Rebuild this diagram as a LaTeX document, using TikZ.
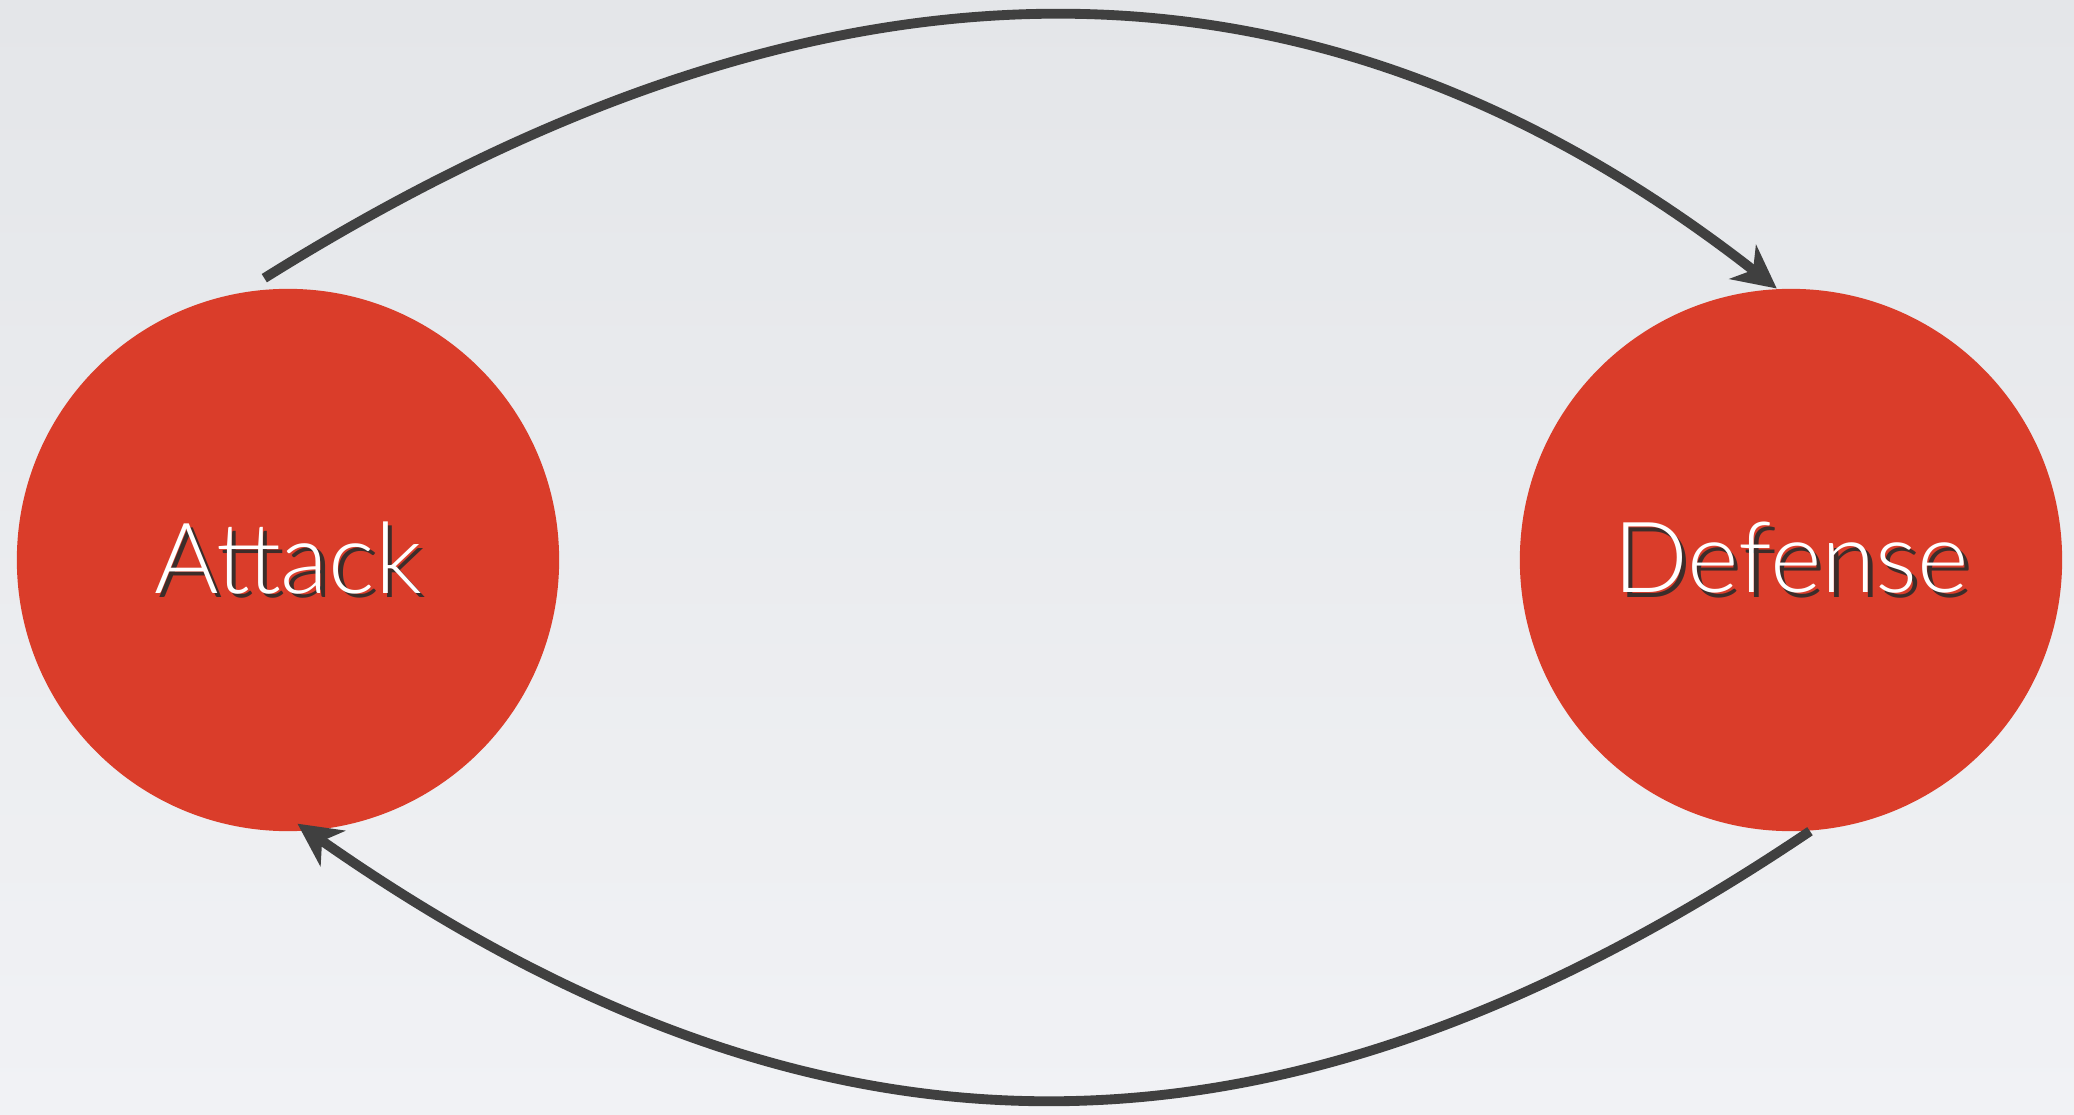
\documentclass[tikz,border=0pt]{standalone}
\usepackage{fontspec}
\usepackage{xcolor}
\usepackage{tikz}
\usetikzlibrary{arrows.meta}
\newfontfamily\labelfont{Lato}[UprightFont=* Light]
\definecolor{bgtop}{RGB}{228,230,233}
\definecolor{bgbottom}{RGB}{241,242,245}
\definecolor{sidered}{RGB}{218,61,42}
\definecolor{arrowgray}{RGB}{64,64,64}
\definecolor{shadowgray}{RGB}{60,45,42}
\newcommand{\shadowed}[1]{\makebox[0pt][l]{\hspace{1.3pt}\raisebox{-1.3pt}{\textcolor{shadowgray}{#1}}}#1}
\tikzset{
    side/.style={circle, fill=sidered, inner sep=0pt, minimum size=5.42cm, text=white, font=\labelfont\fontsize{28}{32}\selectfont},
    arrow/.style={-{Stealth[length=4.3mm, width=4.3mm, inset=1.3mm]}, line width=2.8pt, draw=arrowgray}
}

\begin{document}
\begin{tikzpicture}[x=0.01cm,y=0.01cm]
\shade[top color=bgtop, bottom color=bgbottom] (0,0) rectangle (2074,1114);
\useasboundingbox (0,0) rectangle (2074,1114);
\node[side] (attack) at (288,554) {\shadowed{Attack}};
\node[side] (defense) at (1791,554) {\shadowed{Defense}};
\draw[arrow] ([yshift=1.1mm]attack.95) .. controls +(32:622) and +(142:622) .. (defense.93);
\draw[arrow] (defense.-86) .. controls +(214:640) and +(-35:640) .. ([yshift=0.8mm]attack.-88);
\end{tikzpicture}
\end{document}
